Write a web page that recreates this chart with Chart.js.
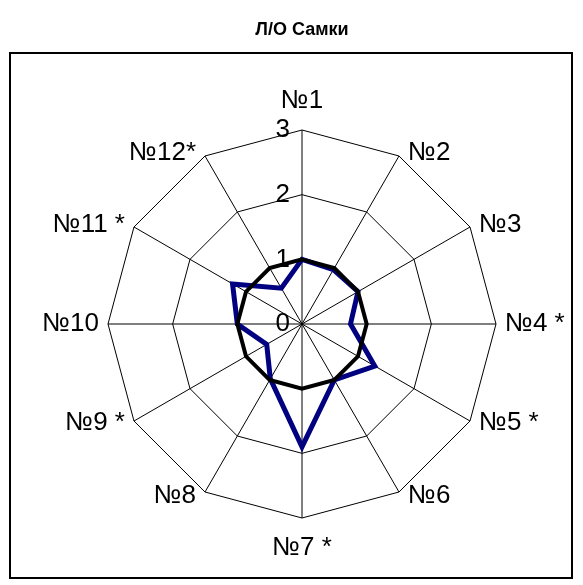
<!DOCTYPE html>
<html>
<head>
<meta charset="utf-8">
<script src="https://cdn.jsdelivr.net/npm/chart.js@4"></script>
<style>
  body { margin: 0; background: #fff; }
  #wrap { position: relative; width: 583px; height: 585px; }
</style>
</head>
<body>
<div id="wrap"><canvas id="radarChart" width="583" height="585"></canvas></div>
<script>
// Data
const categories = ['№1', '№2', '№3', '№4 *', '№5 *', '№6', '№7 *', '№8', '№9 *', '№10', '№11 *', '№12*'];
const controlValues = [1, 1, 1, 1, 1, 1, 1, 1, 1, 1, 1, 1];
const femaleValues = [1.0, 0.97, 1.0, 0.75, 1.3, 1.0, 1.9, 0.98, 0.63, 1.0, 1.24, 0.64];
const tickValues = [0, 1, 2, 3];

const labelFont = '26px "Liberation Sans", Arial, sans-serif';

// white background + frame round the plot
const framePlugin = {
    id: 'frame',
    beforeDraw(chart) {
        const ctx = chart.ctx;
        ctx.save();
        ctx.fillStyle = '#fff';
        ctx.fillRect(0, 0, chart.width, chart.height);
        ctx.strokeStyle = '#000';
        ctx.lineWidth = 2;
        ctx.strokeRect(10, 53, 562, 525);
        ctx.restore();
    }
};

// category names and tick numbers, placed the way Excel does
const labelPlugin = {
    id: 'excelLabels',
    afterDraw(chart) {
        const scale = chart.scales.r;
        const ctx = chart.ctx;
        ctx.save();
        ctx.font = labelFont;
        ctx.fillStyle = '#000';

        categories.forEach((label, i) => {
            const pos = scale.getPointPosition(i, scale.drawingArea);
            const angle = (i / categories.length) * Math.PI * 2;
            const s = Math.sin(angle);
            const c = Math.cos(angle);
            if (Math.abs(s) < 0.01) {
                ctx.textAlign = 'center';
                ctx.textBaseline = 'alphabetic';
                ctx.fillText(label, pos.x, c > 0 ? pos.y - 22 : pos.y + 37);
            } else {
                ctx.textAlign = s > 0 ? 'left' : 'right';
                ctx.textBaseline = 'middle';
                ctx.fillText(label, pos.x + (s > 0 ? 9 : -9), pos.y - 4 * c);
            }
        });

        ctx.textAlign = 'right';
        ctx.textBaseline = 'middle';
        tickValues.forEach(v => {
            const d = scale.getDistanceFromCenterForValue(v);
            ctx.fillText(String(v), scale.xCenter - 12, scale.yCenter - d);
        });
        ctx.restore();
    }
};

const ctx = document.getElementById('radarChart').getContext('2d');
new Chart(ctx, {
    type: 'radar',
    data: {
        labels: categories,
        datasets: [
            {
                label: 'Контроль',
                data: controlValues,
                borderColor: '#000000',
                borderWidth: 4,
                fill: false,
                pointRadius: 0,
                tension: 0
            },
            {
                label: 'Л/О Самки',
                data: femaleValues,
                borderColor: '#000080',
                borderWidth: 5,
                fill: false,
                pointRadius: 0,
                tension: 0
            }
        ]
    },
    options: {
        responsive: false,
        animation: false,
        layout: {
            padding: { left: 108, right: 87, top: 0, bottom: 66 }
        },
        plugins: {
            legend: { display: false },
            tooltip: { enabled: false },
            title: {
                display: true,
                text: 'Л/О Самки',
                color: '#000',
                font: { family: '"Liberation Sans", Arial, sans-serif', size: 18, weight: 'bold' },
                padding: { top: 19, bottom: 89 }
            }
        },
        scales: {
            r: {
                min: 0,
                max: 3,
                ticks: { display: false, stepSize: 1 },
                pointLabels: { display: false },
                grid: { color: '#000', lineWidth: 1 },
                angleLines: { color: '#000', lineWidth: 1 }
            }
        }
    },
    plugins: [framePlugin, labelPlugin]
});
</script>
</body>
</html>
